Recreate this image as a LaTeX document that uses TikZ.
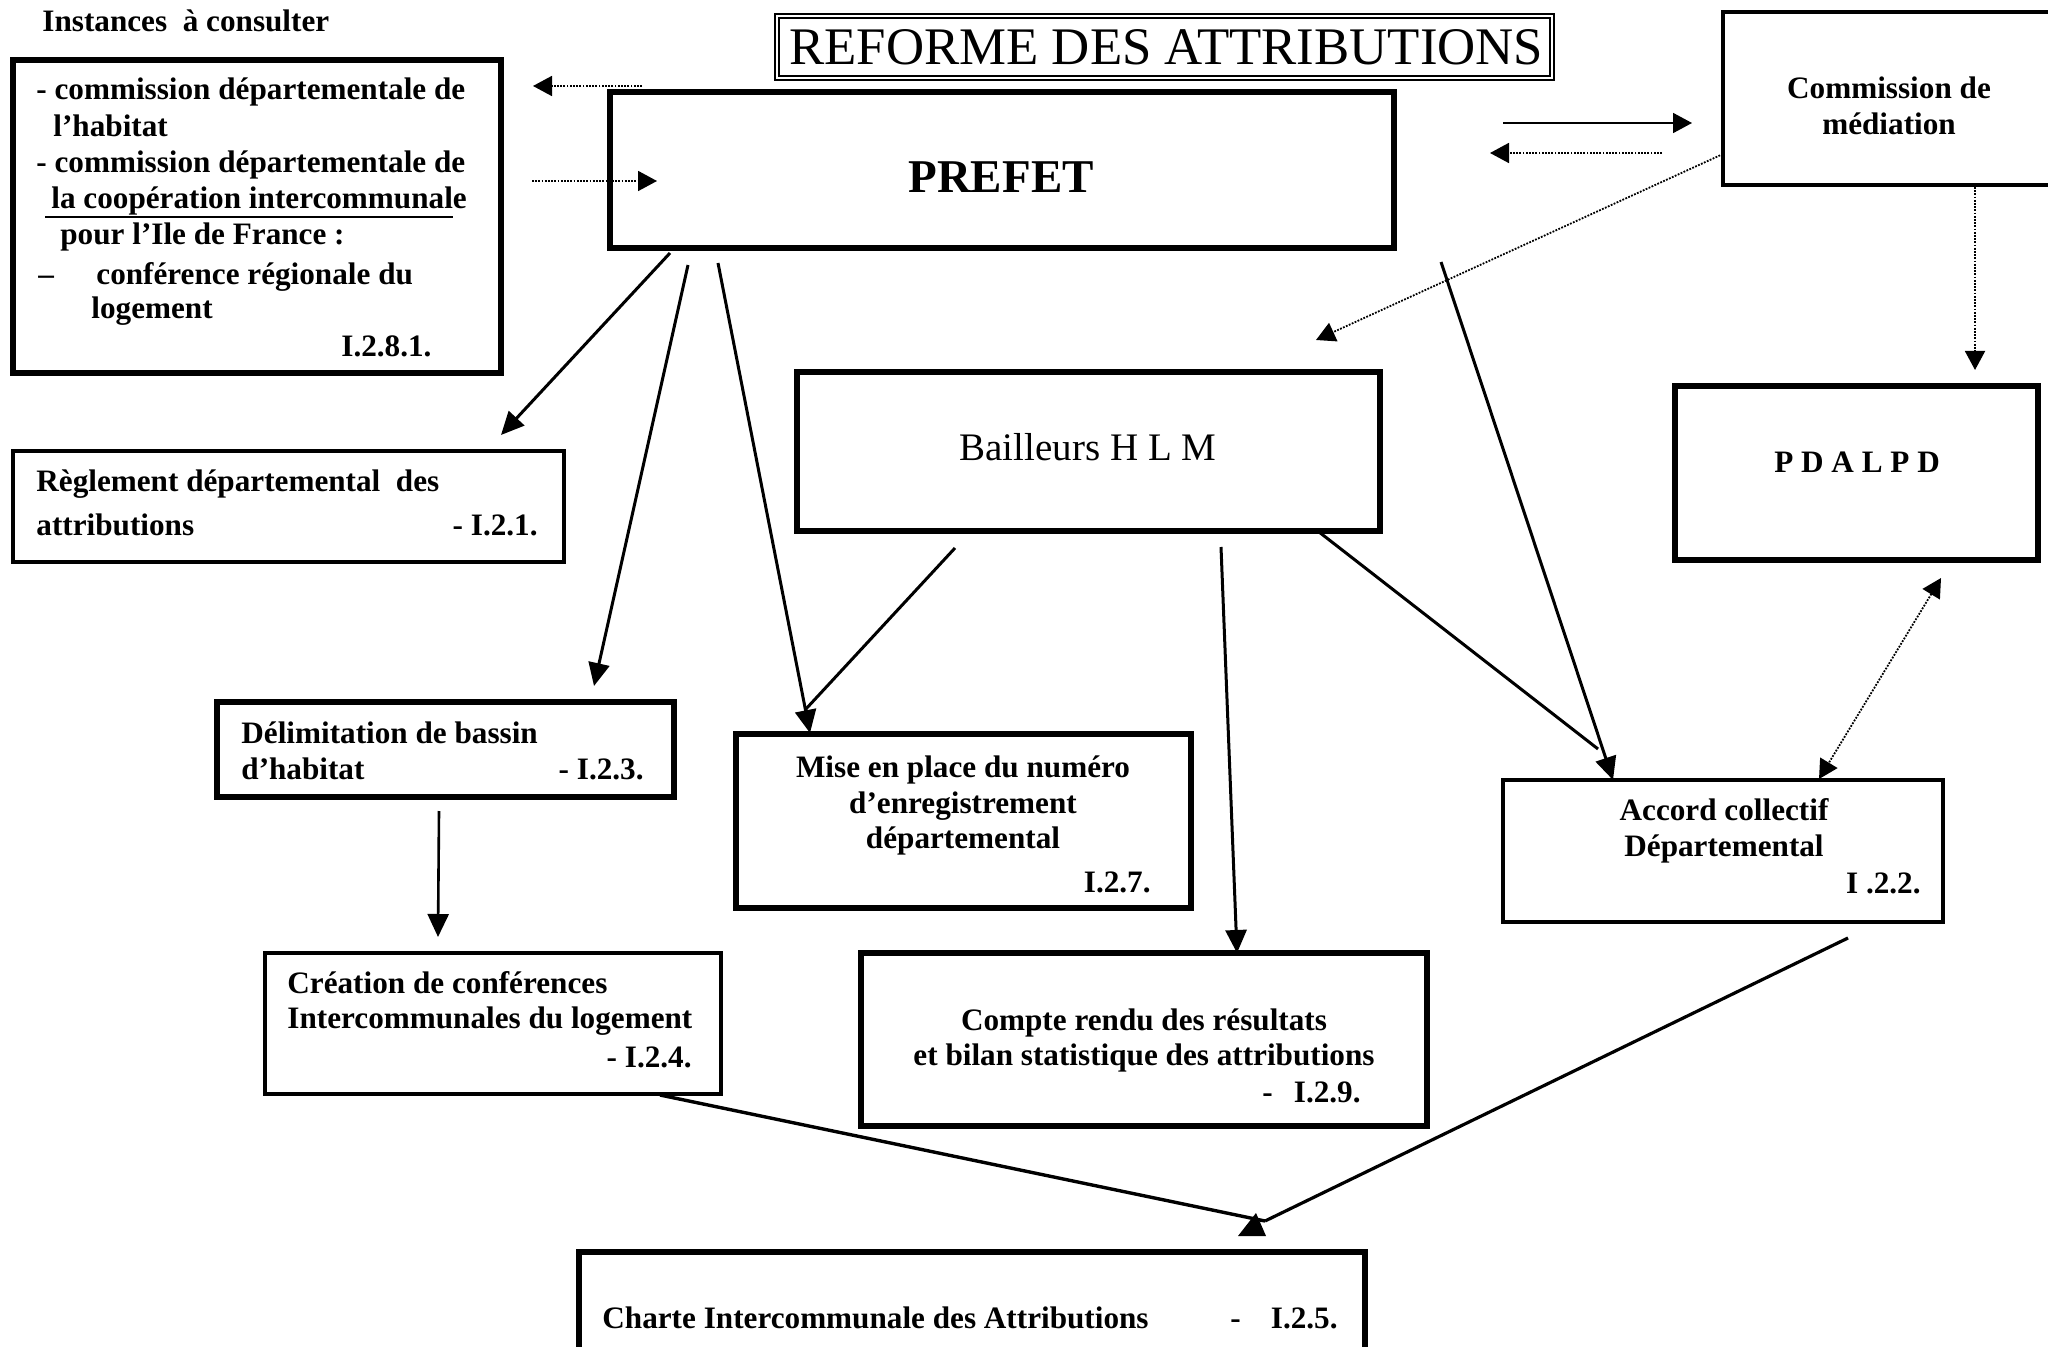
\documentclass[tikz,border=0pt]{standalone}
\usepackage{fontspec}
\setmainfont{Liberation Serif}
\usetikzlibrary{arrows.meta,fit}
\begin{document}
\begin{tikzpicture}[x=0.5pt,y=-0.5pt,
  frame/.style={draw,inner sep=0pt,line width=#1},
  bt/.style={inner sep=0pt,font=\fontsize{15.6}{18}\selectfont\bfseries},
  conn/.style={line width=1.5pt,-{Triangle[length=11.5pt,width=10.5pt]}},
  plainline/.style={line width=1.5pt},
  thinarrow/.style={line width=0.9pt,-{Triangle[length=9.5pt,width=10pt]}},
  dots/.style={line width=0.9pt,dash pattern=on 0.9pt off 0.7pt},
  dhead/.style={-{Triangle[length=9.5pt,width=10pt]}},
  ddhead/.style={{Triangle[length=9.5pt,width=10pt]}-{Triangle[length=9.5pt,width=10pt]}}]
\useasboundingbox (0,0) rectangle (2048,1347);

% ---------- boxes ----------
\node[frame=1.4pt,fit={(775,14) (1554,80)}] (titlebox) {};
\node[frame=0.6pt,fit={(779,18) (1550,76)}] (titleinner) {};
\node[frame=3pt,fit={(610,92) (1394,248)}] (prefet) {};
\node[frame=2.6pt,fit={(13,60) (501,373)}] (inst) {};
\node[frame=1.8pt,fit={(1723,12) (2062,185)}] (comm) {};
\node[frame=3pt,fit={(1675,386) (2038,560)}] (pdal) {};
\node[frame=2.8pt,fit={(797,372) (1380,531)}] (bail) {};
\node[frame=1.6pt,fit={(13,451) (564,562)}] (regl) {};
\node[frame=2.8pt,fit={(217,702) (674,797)}] (delim) {};
\node[frame=2.8pt,fit={(736,734) (1191,908)}] (mise) {};
\node[frame=2pt,fit={(1503,780) (1943,922)}] (accord) {};
\node[frame=2pt,fit={(265,953) (721,1094)}] (creat) {};
\node[frame=3pt,fit={(861,953) (1427,1126)}] (compte) {};
\node[frame=3pt,fit={(579,1252) (1365,1356)}] (charte) {};

% ---------- texts ----------
\node[inner sep=0pt,anchor=base west,font=\fontsize{26.4}{30}\selectfont] (title) at (789,65) {REFORME DES ATTRIBUTIONS};
\node[inner sep=0pt,anchor=base,font=\fontsize{23.5}{28}\selectfont\bfseries] (prefett) at (1001,193) {PREFET};
\node[inner sep=0pt,anchor=base,font=\fontsize{19.5}{23}\selectfont] (bailt) at (1088,460) {Bailleurs H L M};

\node[bt,anchor=base west] (head) at (42,32) {Instances~ à consulter};
\node[bt,anchor=base west] (i1) at (36,100) {- commission départementale de};
\node[bt,anchor=base west] (i2) at (53,137) {l’habitat};
\node[bt,anchor=base west] (i3) at (36,173) {- commission départementale de};
\node[bt,anchor=base west] (i4) at (51,209) {la coopération intercommunale};
\node[bt,anchor=base west] (i5) at (60,245) {pour l’Ile de France :};
\node[bt,anchor=base west] (i6a) at (38,285) {–};
\node[bt,anchor=base west] (i6b) at (96,285) {conférence régionale du};
\node[bt,anchor=base west] (i7) at (91,319) {logement};
\node[bt,anchor=base west] (i8) at (341,357) {I.2.8.1.};
\coordinate (ulA) at (45,217);
\coordinate (ulB) at (453,217);
\draw[line width=0.8pt] (ulA) -- (ulB);

\node[bt,anchor=base] (c1) at (1889,99) {Commission de};
\node[bt,anchor=base] (c2) at (1889,135) {médiation};
\node[bt,anchor=base] (p1) at (1857,473) {P D A L P D};

\node[bt,anchor=base west] (r1) at (36,491) {Règlement départemental~ des};
\node[bt,anchor=base west] (r2) at (36,535) {attributions};
\node[bt,anchor=base east] (r3) at (538,535) {- I.2.1.};

\node[bt,anchor=base west] (d1) at (241,743) {Délimitation de bassin};
\node[bt,anchor=base west] (d2) at (241,779) {d’habitat};
\node[bt,anchor=base east] (d3) at (644,779) {- I.2.3.};

\node[bt,anchor=base] (m1) at (963,777) {Mise en place du numéro};
\node[bt,anchor=base] (m2) at (963,813) {d’enregistrement};
\node[bt,anchor=base] (m3) at (963,848) {départemental};
\node[bt,anchor=base east] (m4) at (1151,892) {I.2.7.};

\node[bt,anchor=base] (a1) at (1724,820) {Accord collectif};
\node[bt,anchor=base] (a2) at (1724,856) {Départemental};
\node[bt,anchor=base east] (a3) at (1921,893) {I .2.2.};

\node[bt,anchor=base west] (cr1) at (287,993) {Création de conférences};
\node[bt,anchor=base west] (cr2) at (287,1028) {Intercommunales du logement};
\node[bt,anchor=base east] (cr3) at (692,1067) {- I.2.4.};

\node[bt,anchor=base] (co1) at (1144,1030) {Compte rendu des résultats};
\node[bt,anchor=base] (co2) at (1144,1065) {et bilan statistique des attributions};
\node[bt,anchor=base west] (co3) at (1262,1102) {-};
\node[bt,anchor=base east] (co4) at (1361,1102) {I.2.9.};

\node[bt,anchor=base west] (ch1) at (602,1328) {Charte Intercommunale des Attributions};
\node[bt,anchor=base west] (ch2) at (1230,1328) {-};
\node[bt,anchor=base east] (ch3) at (1338,1328) {I.2.5.};

% ---------- connector end points ----------
\coordinate (pi1) at (642,86);   \coordinate (pi2) at (533,86);
\coordinate (ip1) at (532,181);  \coordinate (ip2) at (657,181);
\coordinate (pc1) at (1503,123); \coordinate (pc2) at (1692,123);
\coordinate (cp1) at (1662,153); \coordinate (cp2) at (1490,153);
\coordinate (cb1) at (1723,154); \coordinate (cb2) at (1316,340);
\coordinate (cd1) at (1975,187); \coordinate (cd2) at (1975,370);
\coordinate (pr1) at (670,253);  \coordinate (pr2) at (501,435);
\coordinate (pd1) at (688,265);  \coordinate (pd2) at (594,686);
\coordinate (pm1) at (718,263);  \coordinate (pm2) at (810,733);
\coordinate (pa1) at (1441,262); \coordinate (pa2) at (1613,780);
\coordinate (bm1) at (955,548);  \coordinate (bm2) at (805,710);
\coordinate (bc1) at (1221,547); \coordinate (bc2) at (1237,953);
\coordinate (ba1) at (1319,532); \coordinate (ba2) at (1598,749);
\coordinate (da1) at (1941,578); \coordinate (da2) at (1819,779);
\coordinate (dc1) at (439,811);  \coordinate (dc2) at (438,937);
\coordinate (cc1) at (660,1095);
\coordinate (ac1) at (1848,938);
\coordinate (meet) at (1265,1221);

% ---------- connectors ----------
\draw[dots,dhead] (pi1) -- (pi2);
\draw[dots,dhead] (ip1) -- (ip2);
\draw[thinarrow] (pc1) -- (pc2);
\draw[dots,dhead] (cp1) -- (cp2);
\draw[dots,dhead] (cb1) -- (cb2);
\draw[dots,dhead] (cd1) -- (cd2);
\draw[conn] (pr1) -- (pr2);
\draw[conn] (pd1) -- (pd2);
\draw[conn] (pm1) -- (pm2);
\draw[conn] (pa1) -- (pa2);
\draw[plainline] (bm1) -- (bm2);
\draw[conn] (bc1) -- (bc2);
\draw[plainline] (ba1) -- (ba2);
\draw[dots,ddhead] (da1) -- (da2);
\draw[conn,line width=1.3pt] (dc1) -- (dc2);
\draw[plainline,line width=1.7pt] (cc1) -- (meet);
\draw[plainline,line width=1.6pt] (ac1) -- (meet);
\fill (1238,1236) -- (1256,1213) -- (1266,1236) -- cycle;
\end{tikzpicture}
\end{document}
